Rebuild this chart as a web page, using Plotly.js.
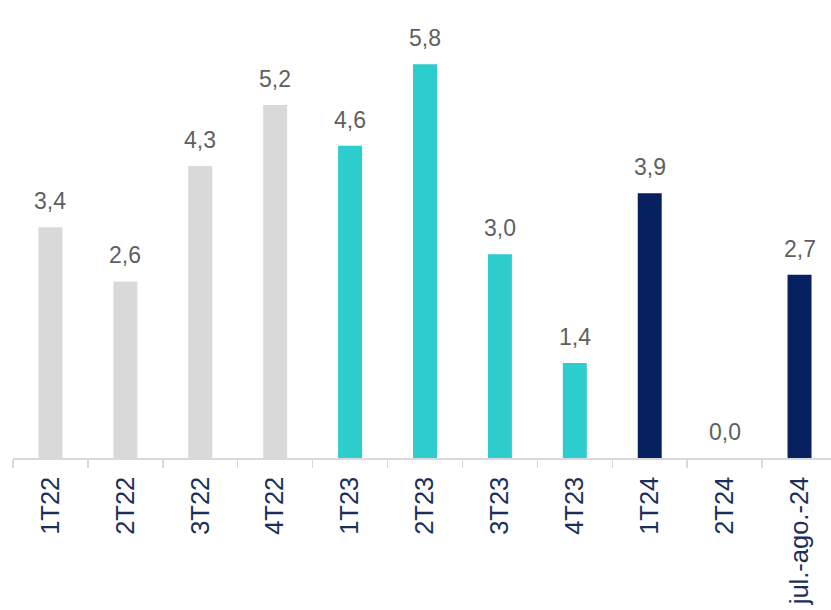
<!DOCTYPE html>
<html>
<head>
<meta charset="utf-8">
<script src="https://cdn.plot.ly/plotly-3.0.1.min.js"></script>
<style>
html,body{margin:0;padding:0;background:#fff;}
#chart{width:831px;height:610px;}
</style>
</head>
<body>
<div id="chart"></div>
<script>
const categories = ["1T22","2T22","3T22","4T22","1T23","2T23","3T23","4T23","1T24","2T24","jul.-ago.-24"];
const values = [3.4, 2.6, 4.3, 5.2, 4.6, 5.8, 3.0, 1.4, 3.9, 0.0, 2.7];
const valueLabels = ["3,4","2,6","4,3","5,2","4,6","5,8","3,0","1,4","3,9","0,0","2,7"];
const barColors = ["#d9d9d9","#d9d9d9","#d9d9d9","#d9d9d9","#2dcccd","#2dcccd","#2dcccd","#2dcccd","#072060","#072060","#072060"];

const trace = {
  type: "bar",
  x: categories,
  y: values,
  marker: {color: barColors, line: {width: 0}},
  width: 0.32,
  hoverinfo: "none"
};

const annotations = categories.map((c, i) => ({
  x: c,
  y: values[i],
  xref: "x",
  yref: "y",
  text: valueLabels[i],
  showarrow: false,
  yanchor: "bottom",
  yshift: 11,
  font: {family: "Arial, Liberation Sans, sans-serif", size: 23, color: "#5f5f5f"}
}));

const layout = {
  width: 831,
  height: 610,
  margin: {l: 13, r: 0, t: 0, b: 152},
  paper_bgcolor: "#ffffff",
  plot_bgcolor: "#ffffff",
  showlegend: false,
  xaxis: {
    type: "category",
    range: [-0.5, 10.42],
    showline: true,
    linecolor: "#d9d9d9",
    linewidth: 1.5,
    ticks: "outside",
    tickson: "boundaries",
    ticklen: 8,
    tickcolor: "#d9d9d9",
    tickwidth: 1.5,
    tickangle: -90,
    ticklabelstandoff: 7,
    tickfont: {family: "Arial, Liberation Sans, sans-serif", size: 25.5, color: "#1b2f5a"},
    showgrid: false,
    zeroline: false,
    fixedrange: true
  },
  yaxis: {
    range: [0, 6.745],
    visible: false,
    showgrid: false,
    zeroline: false,
    fixedrange: true
  },
  annotations: annotations
};

Plotly.newPlot("chart", [trace], layout, {displayModeBar: false, staticPlot: true});
</script>
</body>
</html>
